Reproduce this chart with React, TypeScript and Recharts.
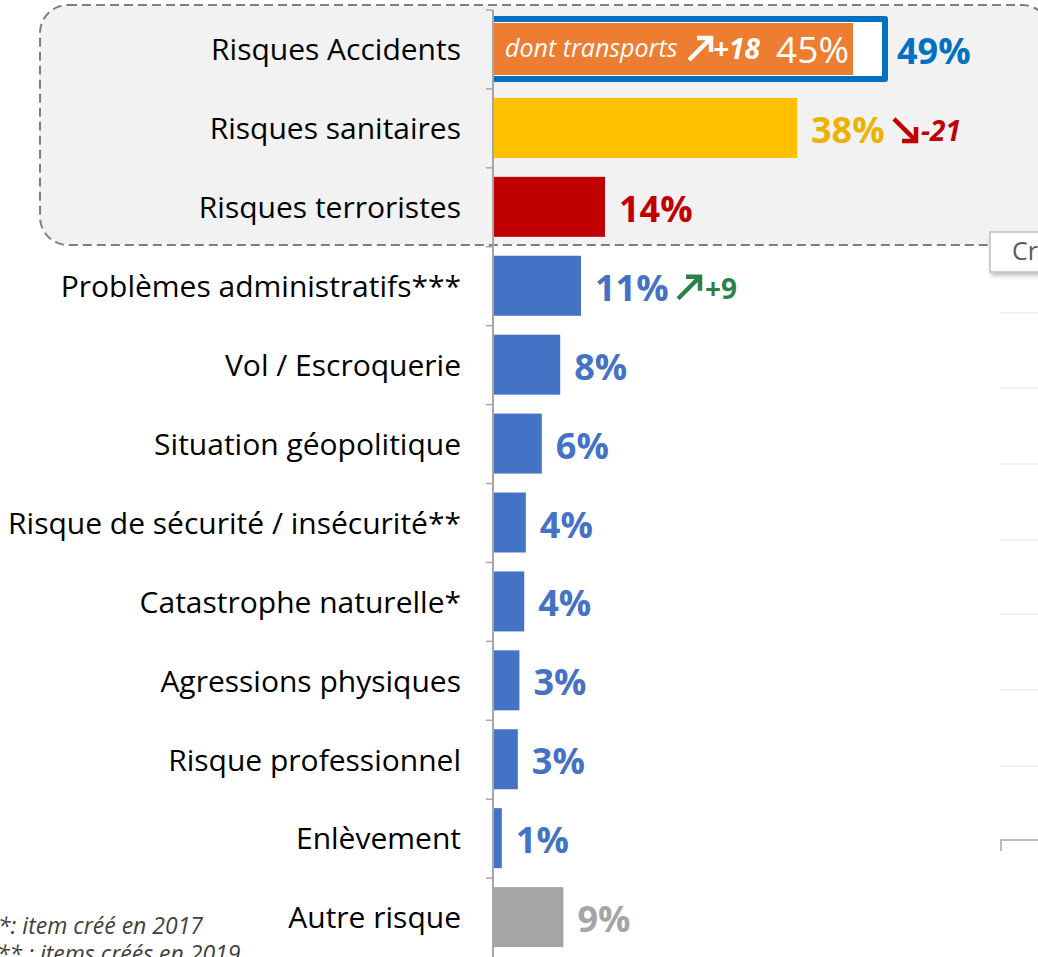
import React from 'react';
import { BarChart, Bar, XAxis, YAxis, LabelList } from 'recharts';

const categories = [
  'Risques Accidents',
  'Risques sanitaires',
  'Risques terroristes',
  'Problèmes administratifs***',
  'Vol / Escroquerie',
  'Situation géopolitique',
  'Risque de sécurité / insécurité**',
  'Catastrophe naturelle*',
  'Agressions physiques',
  'Risque professionnel',
  'Enlèvement',
  'Autre risque',
];
const values = [49, 38, 14, 11, 8.4, 6.1, 4.1, 3.9, 3.3, 3.1, 1.1, 8.8];
const valueLabels = ['49%', '38%', '14%', '11%', '8%', '6%', '4%', '4%', '3%', '3%', '1%', '9%'];
const trends: (number | null)[] = [null, -21, null, 9, null, null, null, null, null, null, null, null];

const subCaption = 'dont transports';
const subValue = 45;
const subLabel = '45%';
const subTrend = 18;

const footnotes = ['*: item créé en 2017', '** : items créés en 2019'];

const barColors = ['#ED7D31', '#FFC000', '#C00000', '#4472C4', '#4472C4', '#4472C4', '#4472C4', '#4472C4', '#4472C4', '#4472C4', '#4472C4', '#A5A5A5'];
const labelColors = ['#0070C0', '#EDB200', '#C00000', '#4472C4', '#4472C4', '#4472C4', '#4472C4', '#4472C4', '#4472C4', '#4472C4', '#4472C4', '#A5A5A5'];

const rows = categories.map((name, i) => ({
  name,
  value: values[i],
  label: valueLabels[i],
  trend: trends[i],
  sub: i === 0 ? subValue : null,
}));

const W = 1038;
const H = 957;
const MARGIN = { top: 10, right: 65, bottom: 0, left: 0 };
const BAND = (H - MARGIN.top - MARGIN.bottom) / categories.length;
const FONT = '"Open Sans", "Noto Sans", sans-serif';

const fmtTrend = (t: number) => (t > 0 ? `+${t}` : `${t}`);

function Arrow({ x, cy, up, color }: { x: number; cy: number; up: boolean; color: string }) {
  const s = 22;
  if (up) {
    return (
      <g stroke={color} strokeWidth={4.5} fill="none" strokeLinecap="butt" strokeLinejoin="miter">
        <path d={`M${x},${cy + s / 2} L${x + s},${cy - s / 2}`} />
        <path d={`M${x + 8},${cy - s / 2} L${x + s},${cy - s / 2} L${x + s},${cy - s / 2 + 14}`} />
      </g>
    );
  }
  return (
    <g stroke={color} strokeWidth={4.5} fill="none" strokeLinecap="butt" strokeLinejoin="miter">
      <path d={`M${x},${cy - s / 2} L${x + s},${cy + s / 2}`} />
      <path d={`M${x + s},${cy + s / 2 - 14} L${x + s},${cy + s / 2} L${x + 8},${cy + s / 2}`} />
    </g>
  );
}

function BarShape(props: any) {
  const { x, y, width, height, index, payload } = props;
  if (index === 0 && payload.sub != null) {
    const subW = (width * payload.sub) / payload.value;
    const cy = y + height / 2;
    return (
      <g>
        <path
          d={`M${x},${y} H${x + width} V${y + height} H${x}`}
          fill="#FFFFFF"
          stroke="#0070C0"
          strokeWidth={6}
          strokeLinejoin="round"
        />
        <rect x={x} y={y + 4} width={subW} height={height - 8} fill={barColors[0]} />
        <text x={x + 12} y={cy + 8} fill="#FFFFFF" fontFamily={FONT} fontStyle="italic" fontSize={25}>
          {subCaption}
        </text>
        <Arrow x={x + 196} cy={cy} up={subTrend > 0} color="#FFFFFF" />
        <text x={x + 220} y={cy + 10} fill="#FFFFFF" fontFamily={FONT} fontStyle="italic" fontWeight={700} fontSize={28}>
          {fmtTrend(subTrend)}
        </text>
        <text x={x + subW - 4} y={cy + 14} fill="#FFFFFF" fontFamily={FONT} fontSize={37} textAnchor="end">
          {subLabel}
        </text>
      </g>
    );
  }
  return <rect x={x} y={y} width={width} height={height} fill={barColors[index]} />;
}

function ValueLabel(props: any) {
  const { x, y, width, height, index, value } = props;
  const end = x + width;
  const cy = y + height / 2;
  const t = trends[index];
  const tColor = t != null && t > 0 ? '#2E8049' : '#C00000';
  return (
    <g>
      <text
        x={end + (index === 0 ? 12 : 14)}
        y={cy + 15}
        fill={labelColors[index]}
        fontFamily={FONT}
        fontWeight={700}
        fontSize={36}
      >
        {value}
      </text>
      {t != null && (
        <g>
          <Arrow x={end + 97} cy={cy + 2} up={t > 0} color={tColor} />
          <text
            x={end + 124}
            y={cy + 13}
            fill={tColor}
            fontFamily={FONT}
            fontStyle={t > 0 ? 'normal' : 'italic'}
            fontWeight={700}
            fontSize={28}
          >
            {fmtTrend(t)}
          </text>
        </g>
      )}
    </g>
  );
}

function CategoryTick(props: any) {
  const { x, y, payload } = props;
  return (
    <g>
      <line x1={x + 25} x2={x + 32} y1={y - BAND / 2} y2={y - BAND / 2} stroke="#A6A6A6" strokeWidth={1.5} />
      <text x={x} y={y} dy="0.36em" textAnchor="end" fill="#000000" fontFamily={FONT} fontSize={30}>
        {payload.value}
      </text>
    </g>
  );
}

function Decorations() {
  const faint = [313, 388, 464, 540, 614, 690, 766];
  return (
    <svg width={W} height={H} style={{ position: 'absolute', left: 0, top: 0 }}>
      <defs>
        <filter id="shadow" x="-20%" y="-20%" width="160%" height="160%">
          <feDropShadow dx="2" dy="3" stdDeviation="2" floodColor="#000" floodOpacity="0.25" />
        </filter>
      </defs>
      <rect x={40} y={5} width={1010} height={240} rx={28} ry={28} fill="#F2F2F2" stroke="#7F7F7F" strokeWidth={2} strokeDasharray="9 5" />
      {faint.map((fy) => (
        <line key={fy} x1={1000} x2={W} y1={fy} y2={fy} stroke="#EBEBEB" strokeWidth={1.5} />
      ))}
      <path d={`M1001,851 V840 H${W}`} fill="none" stroke="#A6A6A6" strokeWidth={1.5} />
      <rect x={990} y={232} width={70} height={40} fill="#FFFFFF" stroke="#BFBFBF" strokeWidth={1.5} filter="url(#shadow)" />
      <text x={1012} y={260} fill="#595959" fontFamily={FONT} fontSize={25}>Cr</text>
      <text x={-2} y={934} fill="#404040" fontFamily={FONT} fontStyle="italic" fontSize={23}>{footnotes[0]}</text>
      <text x={-3} y={962} fill="#404040" fontFamily={FONT} fontStyle="italic" fontSize={23}>{footnotes[1]}</text>
    </svg>
  );
}

export default function App() {
  return (
    <div style={{ position: 'absolute', left: 0, top: 0, width: W, height: H, overflow: 'hidden', background: '#FFFFFF' }}>
      <Decorations />
      <div style={{ position: 'absolute', left: 0, top: 0 }}>
        <BarChart width={W} height={H} data={rows} layout="vertical" margin={MARGIN}>
          <XAxis type="number" domain={[0, 60]} hide />
          <YAxis
            type="category"
            dataKey="name"
            width={493}
            interval={0}
            tickSize={7}
            tickMargin={25}
            tickLine={false}
            axisLine={{ stroke: '#A6A6A6', strokeWidth: 2 }}
            tick={<CategoryTick />}
          />
          <Bar dataKey="value" barSize={60} isAnimationActive={false} shape={<BarShape />}>
            <LabelList dataKey="label" content={<ValueLabel />} />
          </Bar>
        </BarChart>
      </div>
    </div>
  );
}
